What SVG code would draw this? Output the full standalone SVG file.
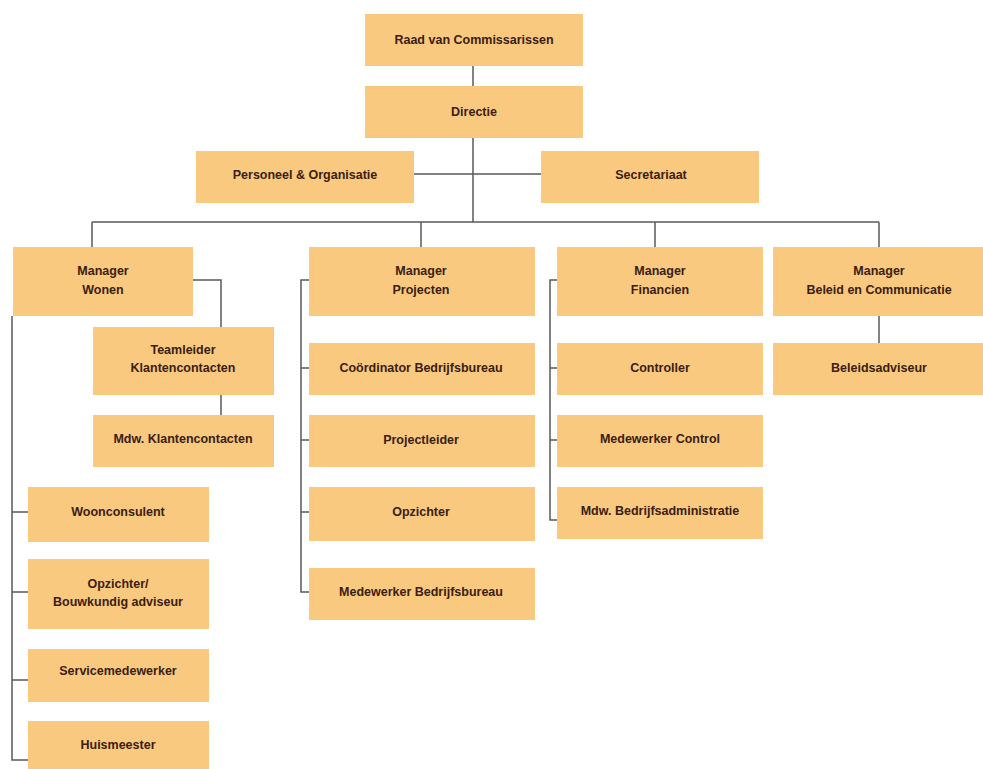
<svg xmlns="http://www.w3.org/2000/svg" width="983" height="769" viewBox="0 0 983 769">
<style>
.b{fill:#f9c980;}
.t{font-family:"Liberation Sans",Arial,sans-serif;font-weight:bold;font-size:12.5px;fill:#3a2010;text-anchor:middle;}
.c{fill:none;stroke:#5a5a5a;stroke-width:1.5;}
</style>
<rect width="983" height="769" fill="#ffffff"/>
<g id="connectors" class="c">
<path d="M473,66 V86 M473,138 V222 M414,174 H541 M92,222 H879 M92,222 V248 M421,222 V248 M655,222 V248 M879,222 V248"/>
<path d="M193,280 H221 V327 M221,395 V415"/>
<path d="M12,316 V760 H28 M12,512 H28 M12,592 H28 M12,680 H28"/>
<path d="M309,280 H301 V592 H309 M301,368 H309 M301,440 H309 M301,512 H309"/>
<path d="M557,280 H550 V520 H557 M550,368 H557 M550,440 H557"/>
<path d="M879,316 V343"/>
</g>
<g id="raad"><rect class="b" x="365" y="14" width="218" height="52"/><text class="t" x="474" y="44">Raad van Commissarissen</text></g>
<g id="directie"><rect class="b" x="365" y="86" width="218" height="52"/><text class="t" x="474" y="116">Directie</text></g>
<g id="po"><rect class="b" x="196" y="151" width="218" height="52"/><text class="t" x="305" y="179">Personeel &amp; Organisatie</text></g>
<g id="secretariaat"><rect class="b" x="541" y="151" width="218" height="52"/><text class="t" x="651" y="179">Secretariaat</text></g>
<g id="mwonen"><rect class="b" x="13" y="247" width="180" height="69"/><text class="t" x="103" y="275">Manager</text><text class="t" x="103" y="294">Wonen</text></g>
<g id="mprojecten"><rect class="b" x="309" y="247" width="226" height="69"/><text class="t" x="421" y="275">Manager</text><text class="t" x="421" y="294">Projecten</text></g>
<g id="mfinancien"><rect class="b" x="557" y="247" width="206" height="69"/><text class="t" x="660" y="275">Manager</text><text class="t" x="660" y="294">Financien</text></g>
<g id="mbeleid"><rect class="b" x="773" y="247" width="210" height="69"/><text class="t" x="879" y="275">Manager</text><text class="t" x="879" y="294">Beleid en Communicatie</text></g>
<g id="teamleider"><rect class="b" x="93" y="327" width="181" height="68"/><text class="t" x="183" y="354">Teamleider</text><text class="t" x="183" y="372">Klantencontacten</text></g>
<g id="mdwklant"><rect class="b" x="93" y="415" width="181" height="52"/><text class="t" x="183" y="443">Mdw. Klantencontacten</text></g>
<g id="woonconsulent"><rect class="b" x="28" y="487" width="181" height="55"/><text class="t" x="118" y="516">Woonconsulent</text></g>
<g id="opzichterbouw"><rect class="b" x="28" y="559" width="181" height="70"/><text class="t" x="118" y="588">Opzichter/</text><text class="t" x="118" y="606">Bouwkundig adviseur</text></g>
<g id="service"><rect class="b" x="28" y="649" width="181" height="53"/><text class="t" x="118" y="675">Servicemedewerker</text></g>
<g id="huismeester"><rect class="b" x="28" y="721" width="181" height="48"/><text class="t" x="118" y="749">Huismeester</text></g>
<g id="coordinator"><rect class="b" x="309" y="343" width="226" height="52"/><text class="t" x="421" y="372">Coördinator Bedrijfsbureau</text></g>
<g id="projectleider"><rect class="b" x="309" y="415" width="226" height="52"/><text class="t" x="421" y="444">Projectleider</text></g>
<g id="opzichter"><rect class="b" x="309" y="487" width="226" height="54"/><text class="t" x="421" y="516">Opzichter</text></g>
<g id="medbedrijf"><rect class="b" x="309" y="568" width="226" height="52"/><text class="t" x="421" y="596">Medewerker Bedrijfsbureau</text></g>
<g id="controller"><rect class="b" x="557" y="343" width="206" height="52"/><text class="t" x="660" y="372">Controller</text></g>
<g id="medcontrol"><rect class="b" x="557" y="415" width="206" height="52"/><text class="t" x="660" y="443">Medewerker Control</text></g>
<g id="mdwadmin"><rect class="b" x="557" y="487" width="206" height="52"/><text class="t" x="660" y="515">Mdw. Bedrijfsadministratie</text></g>
<g id="beleidsadviseur"><rect class="b" x="773" y="343" width="210" height="52"/><text class="t" x="879" y="372">Beleidsadviseur</text></g>
</svg>
